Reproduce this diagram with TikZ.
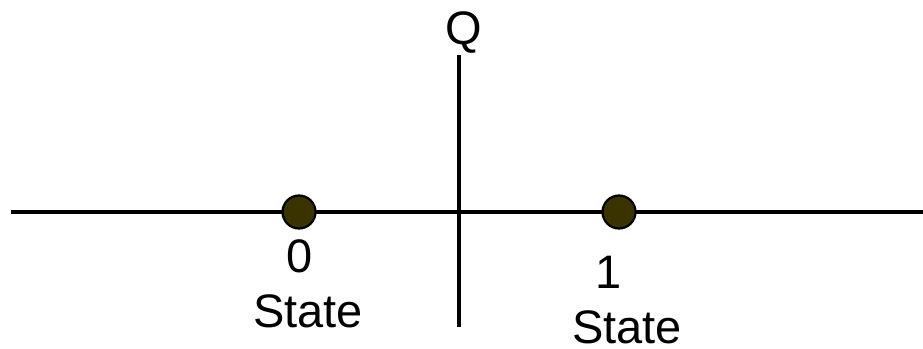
\documentclass[tikz,border=0pt]{standalone}
\usepackage{fontspec}
\setmainfont{Liberation Sans}
\definecolor{dotfill}{HTML}{3A3300}
\begin{document}
\begin{tikzpicture}[x=1pt,y=-1pt,
  axis/.style={line width=4pt},
  statedot/.style={circle,draw=black,line width=2.2pt,fill=dotfill,minimum size=33pt,inner sep=0pt},
  lbl/.style={font=\fontsize{47}{54}\selectfont,anchor=base,inner sep=0pt,text depth=0pt}]
\useasboundingbox (0,0) rectangle (923,348);
\coordinate (hl) at (11,212);
\coordinate (hr) at (923,212);
\coordinate (vt) at (459,55);
\coordinate (vb) at (459,327);
\draw[axis] (hl) -- (hr);
\draw[axis] (vt) -- (vb);
\node[statedot] (s0) at (299,212) {};
\node[statedot] (s1) at (619,212) {};
\node[lbl] (q) at (464,44) {Q};
\node[lbl] (n0) at (300,272) {0};
\node[lbl] (t0) at (308,327) {State};
\node[lbl] (n1) at (609,288) {1};
\node[lbl] (t1) at (627,343) {State};
\end{tikzpicture}
\end{document}
